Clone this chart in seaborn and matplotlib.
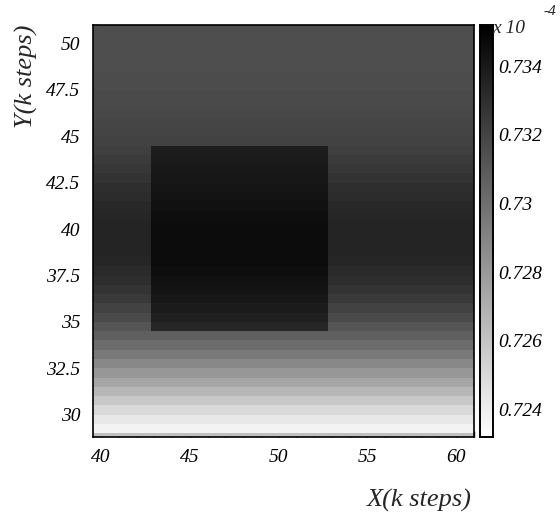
import numpy as np
import pandas as pd
import seaborn as sns
import matplotlib.pyplot as plt
from matplotlib.ticker import FixedLocator

sns.set_theme(style="ticks")
plt.rcParams["font.family"] = ["Liberation Serif", "DejaVu Serif"]
plt.rcParams["font.style"] = "italic"

# bin layout of the 2D histogram (k steps)
x_edges_start, y_edges_start, bin_w = 39.3, 28.5, 0.5
n_x, n_y = 44, 45

# background level per y row (units of 1e-4), rows from y=28.75 up to y=50.75
row_level = [
    0.7262, 0.7238, 0.7243, 0.7250, 0.7258, 0.7266, 0.7274, 0.7281, 0.7288,
    0.7295, 0.7301, 0.7307, 0.7312, 0.7317, 0.7321, 0.7325, 0.7328, 0.7330,
    0.7332, 0.7334, 0.7335, 0.7335, 0.7335, 0.7335, 0.7334, 0.7333, 0.7331,
    0.7330, 0.7328, 0.7326, 0.7324, 0.7322, 0.7321, 0.7320, 0.7319, 0.7318,
    0.7317, 0.7317, 0.7316, 0.7316, 0.7315, 0.7315, 0.7315, 0.7315, 0.7315,
]

# level inside the square region, rows y=34.75..44.25
square_x = (42.8, 52.8)
square_y = (34.5, 44.5)
square_level = [
    0.7334, 0.7337, 0.7339, 0.7341, 0.7343, 0.7344, 0.7345, 0.7346, 0.7346,
    0.7346, 0.7346, 0.7346, 0.7345, 0.7344, 0.7343, 0.7342, 0.7341, 0.7340,
    0.7339, 0.7338,
]

x_ticks = [40, 45, 50, 55, 60]
y_ticks = [30, 32.5, 35, 37.5, 40, 42.5, 45, 47.5, 50]
cbar_ticks = [0.724, 0.726, 0.728, 0.73, 0.732, 0.734]
vmin, vmax = 0.7232, 0.7352


def xi(x):
    return (x - x_edges_start) / bin_w


def yi(y):
    return (y - y_edges_start) / bin_w


grid = np.tile(np.array(row_level)[:, None], (1, n_x))
r0, r1 = int(round(yi(square_y[0]))), int(round(yi(square_y[1])))
c0, c1 = int(round(xi(square_x[0]))), int(round(xi(square_x[1])))
grid[r0:r1, c0:c1] = np.array(square_level)[:, None]

x_centers = x_edges_start + bin_w * (np.arange(n_x) + 0.5)
y_centers = y_edges_start + bin_w * (np.arange(n_y) + 0.5)
df = pd.DataFrame(grid, index=y_centers, columns=x_centers)

fig = plt.figure(figsize=(5.6, 5.18), dpi=100)
ax = fig.add_axes([93 / 560, 1 - 437 / 518, 381 / 560, 412 / 518])
cax = fig.add_axes([480 / 560, 1 - 437 / 518, 13 / 560, 412 / 518])

sns.heatmap(df, ax=ax, cbar_ax=cax, cmap="gray_r", vmin=vmin, vmax=vmax,
            xticklabels=False, yticklabels=False)

ax.set_xlim(xi(39.55), xi(61.0))
ax.set_ylim(yi(28.8), yi(51.0))

tick_font = dict(fontsize=14, fontstyle="italic", color="black")
ax.set_xticks([xi(v) for v in x_ticks])
ax.set_xticklabels([f"{v:g}" for v in x_ticks], **tick_font)
ax.xaxis.set_minor_locator(FixedLocator([xi(v) for v in range(40, 62)]))
ax.set_yticks([yi(v) for v in y_ticks])
ax.set_yticklabels([f"{v:g}" for v in y_ticks], **tick_font)
ax.yaxis.set_minor_locator(FixedLocator([yi(29 + 0.5 * k) for k in range(45)]))
ax.set_xlabel("")
ax.set_ylabel("")

ax.tick_params(which="both", direction="in", color="black", width=1,
               top=False, right=False)
ax.tick_params(which="major", length=8, pad=9)
ax.tick_params(which="minor", length=4)
for sp in ax.spines.values():
    sp.set_visible(True)
    sp.set_color("black")
    sp.set_linewidth(1.2)

cax.set_yticks(cbar_ticks)
cax.set_yticklabels([f"{v:g}" for v in cbar_ticks], **tick_font)
cax.tick_params(direction="in", length=9, width=1, color="black", pad=4)
for sp in cax.spines.values():
    sp.set_visible(True)
    sp.set_color("black")
    sp.set_linewidth(1.2)

fig.text(492 / 560, 1 - 33 / 518, "x 10", fontsize=14, fontstyle="italic",
         ha="left", va="baseline")
fig.text(543 / 560, 1 - 15 / 518, "-4", fontsize=11, fontstyle="italic",
         ha="left", va="baseline")

fig.text(472 / 560, 1 - 500 / 518, "X(k steps)", fontsize=19,
         fontstyle="italic", ha="right", va="center")
fig.text(26 / 560, 1 - 25 / 518, "Y(k steps)", fontsize=19,
         fontstyle="italic", rotation=90, ha="center", va="top")

fig.savefig("out.png", dpi=100)
